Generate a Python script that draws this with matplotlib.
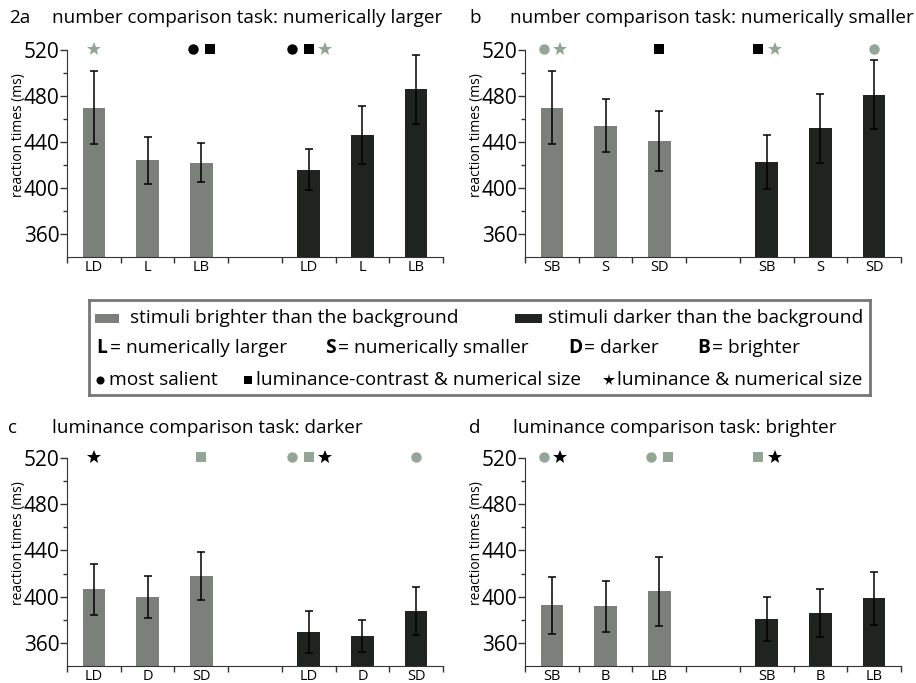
import matplotlib
matplotlib.use('Agg')
import matplotlib.pyplot as plt
from matplotlib.patches import Rectangle

plt.rcParams['font.family'] = ['Open Sans', 'DejaVu Sans']

GRAY = '#7b807b'
DARK = '#1f2420'
SAGE = '#93a594'
EDGE = '#333333'

# bar slots: 3 bright, gap, 3 dark
bar_pos = [0, 1, 2, 4, 5, 6]

labels_a = ['LD', 'L', 'LB', 'LD', 'L', 'LB']
bright_a = [470, 424, 422]
bright_a_err = [32, 20.5, 17]
dark_a = [416, 446, 486]
dark_a_err = [18, 25, 30]
marks_a = {0: ['star_g'], 2: ['circle_k', 'square_k'], 4: ['circle_k', 'square_k', 'star_g']}

labels_b = ['SB', 'S', 'SD', 'SB', 'S', 'SD']
bright_b = [470, 454, 441]
bright_b_err = [31.5, 23, 26]
dark_b = [423, 452, 481]
dark_b_err = [23.5, 30, 30]
marks_b = {0: ['circle_g', 'star_g'], 2: ['square_k'], 4: ['square_k', 'star_g'], 6: ['circle_g']}

labels_c = ['LD', 'D', 'SD', 'LD', 'D', 'SD']
bright_c = [406.5, 399.5, 418]
bright_c_err = [22, 18, 20.5]
dark_c = [369.5, 366, 387.5]
dark_c_err = [18.5, 14, 21]
marks_c = {0: ['star_k'], 2: ['square_g'], 4: ['circle_g', 'square_g', 'star_k'], 6: ['circle_g']}

labels_d = ['SB', 'B', 'LB', 'SB', 'B', 'LB']
bright_d = [392.5, 391.5, 404.5]
bright_d_err = [24.5, 22, 30]
dark_d = [380.5, 386, 398.5]
dark_d_err = [19, 21, 23]
marks_d = {0: ['circle_g', 'star_k'], 2: ['circle_g', 'square_g'], 4: ['square_g', 'star_k']}

W, H = 916, 683
fig = plt.figure(figsize=(W / 100, H / 100), dpi=100)


def px_axes(left, top, right, bottom):
    return fig.add_axes([left / W, 1 - bottom / H, (right - left) / W, (bottom - top) / H])


def px_text(x, y, s, **kw):
    fig.text(x / W, 1 - y / H, s, va='center', **kw)


sym = {
    'circle': ('o', 7.5),
    'square': ('s', 7.0),
    'star': ('*', 10.5),
}


def draw_panel(ax, labels, bright, bright_err, dark, dark_err, marks):
    vals = bright + dark
    errs = bright_err + dark_err
    colors = [GRAY] * 3 + [DARK] * 3
    ax.bar(bar_pos, vals, width=0.42, color=colors, yerr=errs,
           error_kw=dict(ecolor='black', elinewidth=1.1, capsize=2.6, capthick=1.1))
    ax.set_xlim(-0.5, 6.5)
    ax.set_ylim(340, 520)
    ax.set_yticks([360, 400, 440, 480, 520])
    ax.set_yticks([380, 420, 460, 500], minor=True)
    ax.set_xticks([x - 0.5 for x in range(8)])
    ax.set_xticklabels([])
    ax.set_xticks(bar_pos, minor=True)
    ax.set_xticklabels(labels, minor=True, fontsize=10.5)
    ax.tick_params(axis='x', which='major', length=4, width=1, color=EDGE)
    ax.tick_params(axis='x', which='minor', length=0, pad=2)
    ax.tick_params(axis='y', which='major', length=5, width=1, color=EDGE, labelsize=15, pad=0.5)
    ax.tick_params(axis='y', which='minor', length=3, width=1, color=EDGE)
    for s in ['top', 'right']:
        ax.spines[s].set_visible(False)
    for s in ['left', 'bottom']:
        ax.spines[s].set_color(EDGE)
    ax.set_ylabel('reaction times (ms)', fontsize=10)
    ax.yaxis.set_label_coords(-0.11, 0.59)

    for bar_i, items in marks.items():
        n = len(items)
        for k, item in enumerate(items):
            shape, col = item.split('_')
            m, ms = sym[shape]
            x = bar_i + (k - (n - 1) / 2) * 0.31
            ax.plot([x], [521], marker=m, markersize=ms, linestyle='none',
                    color=SAGE if col == 'g' else 'black', markeredgewidth=0, clip_on=False)


ax_a = px_axes(67, 50, 443, 257)
ax_b = px_axes(525, 50, 901, 257)
ax_c = px_axes(67, 458, 443, 666)
ax_d = px_axes(525, 458, 901, 666)

draw_panel(ax_a, labels_a, bright_a, bright_a_err, dark_a, dark_a_err, marks_a)
draw_panel(ax_b, labels_b, bright_b, bright_b_err, dark_b, dark_b_err, marks_b)
draw_panel(ax_c, labels_c, bright_c, bright_c_err, dark_c, dark_c_err, marks_c)
draw_panel(ax_d, labels_d, bright_d, bright_d_err, dark_d, dark_d_err, marks_d)

title_size = 13.6
px_text(9, 18, '2a', fontsize=title_size)
px_text(52, 18, 'number comparison task: numerically larger', fontsize=title_size)
px_text(469, 18, 'b', fontsize=title_size)
px_text(510, 18, 'number comparison task: numerically smaller', fontsize=title_size)
px_text(8, 428, 'c', fontsize=title_size)
px_text(52, 428, 'luminance comparison task: darker', fontsize=title_size)
px_text(469, 428, 'd', fontsize=title_size)
px_text(513, 428, 'luminance comparison task: brighter', fontsize=title_size)

# legend box
lg = px_axes(89, 300, 870, 395)
lg.set_xlim(89, 870)
lg.set_ylim(395, 300)
lg.set_xticks([])
lg.set_yticks([])
for s in lg.spines.values():
    s.set_color('#777777')
    s.set_linewidth(2)

fs = 13.8
r1, r2, r3 = 318, 348, 380
lg.add_patch(Rectangle((95, r1 - 4.5), 24, 9, color=GRAY, lw=0))
lg.text(130, r1, 'stimuli brighter than the background', fontsize=fs, va='center')
lg.add_patch(Rectangle((515, r1 - 4.5), 27, 9, color=DARK, lw=0))
lg.text(548, r1, 'stimuli darker than the background', fontsize=fs, va='center')

for x, x_eq, letter, desc in [(96, 110, 'L', 'numerically larger'), (325, 338, 'S', 'numerically smaller'),
                              (568, 584, 'D', 'darker'), (697, 712, 'B', 'brighter')]:
    lg.text(x, r2, letter, fontsize=fs, fontweight='bold', va='center')
    lg.text(x_eq, r2, '= ' + desc, fontsize=fs, va='center')

lg.plot([99.5], [r3], marker='o', markersize=5.8, color='black', markeredgewidth=0)
lg.text(109, r3, 'most salient', fontsize=fs, va='center')
lg.plot([247.5], [r3], marker='s', markersize=5.8, color='black', markeredgewidth=0)
lg.text(256, r3, 'luminance-contrast & numerical size', fontsize=fs, va='center')
lg.plot([609], [r3], marker='*', markersize=8.5, color='black', markeredgewidth=0)
lg.text(617, r3, 'luminance & numerical size', fontsize=fs, va='center')

fig.savefig('out.png', dpi=100)
